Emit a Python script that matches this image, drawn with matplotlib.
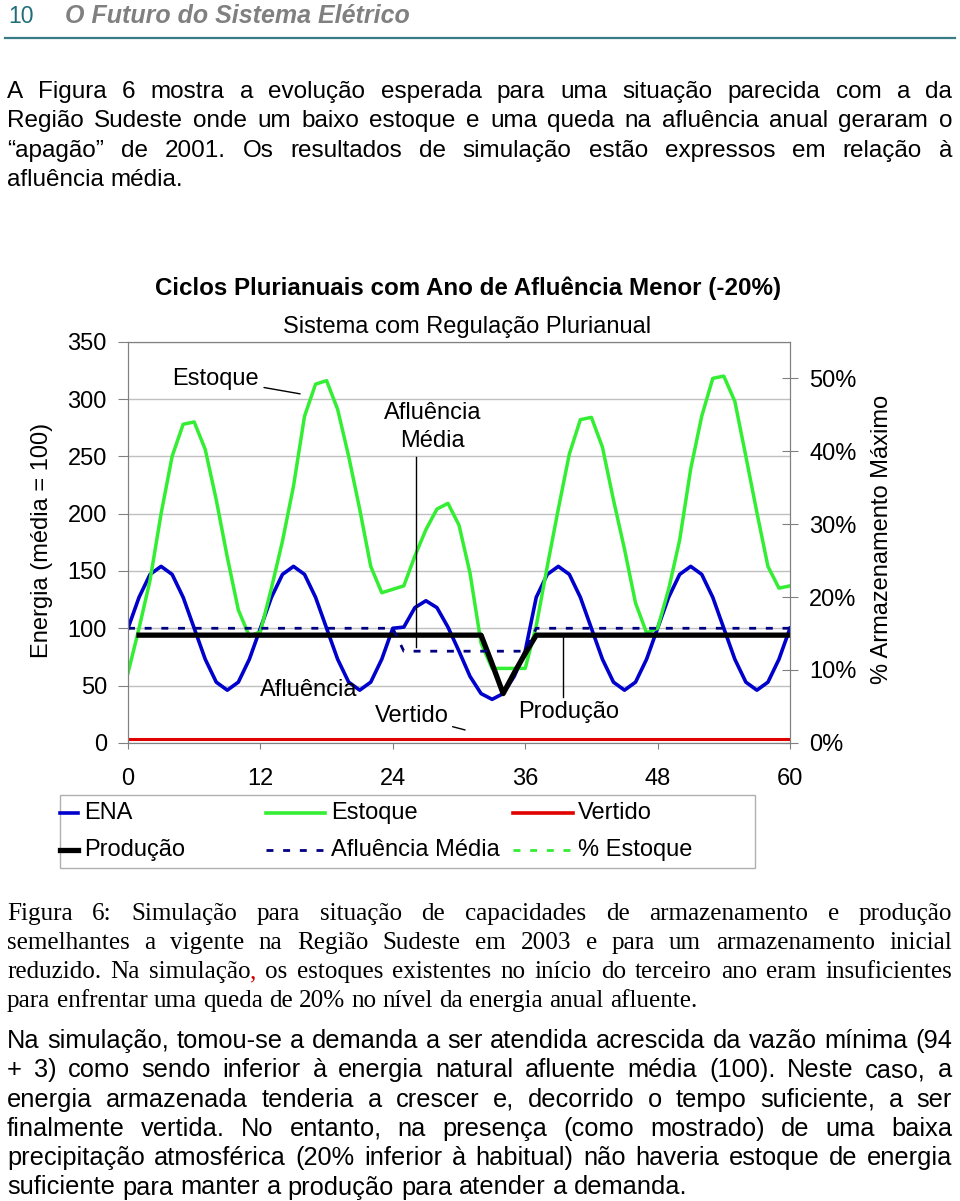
import matplotlib
matplotlib.use('Agg')
import matplotlib.pyplot as plt
import numpy as np
from matplotlib.transforms import Affine2D
from matplotlib.lines import Line2D
from matplotlib.patches import Rectangle

plt.rcParams['font.family'] = ['Liberation Sans', 'DejaVu Sans']
plt.rcParams['lines.scale_dashes'] = False

W, H = 960, 1201

# ---- data (monthly, 0..60) ----
months = np.arange(61)
ena = [100,
       127, 147, 154, 147, 127, 100, 73, 53, 46, 53, 73, 100,
       127, 147, 154, 147, 127, 100, 73, 53, 46, 53, 73, 100,
       101, 118, 124, 118, 101, 80, 58, 43, 38, 43, 58, 80,
       127, 147, 154, 147, 127, 100, 73, 53, 46, 53, 73, 100,
       127, 147, 154, 147, 127, 100, 73, 53, 46, 53, 73, 100]
estoque = [61, 100, 142, 200, 250, 278, 280, 256, 212, 162, 116, 93, 97,
           135, 176, 224, 285, 313, 316, 291, 250, 204, 154, 131, 134,
           137, 163, 186, 204, 209, 190, 148, 87, 65, 65, 65, 65,
           102, 154, 204, 252, 282, 284, 258, 212, 169, 122, 96, 100,
           134, 177, 239, 285, 318, 320, 298, 250, 201, 154, 135, 137]
vertido = [3] * 61
producao = [np.nan] + [94] * 32 + [69, 43, 61, 78] + [94] * 24
afl_media = [100] * 25 + [80] * 12 + [100] * 24

x_ticks = [0, 12, 24, 36, 48, 60]
y_ticks = list(range(0, 351, 50))
pct_ticks = [0, 10, 20, 30, 40, 50]

legend_rows = [[('ENA', '#0000cc', 'solid'), ('Estoque', '#33ee33', 'solid'), ('Vertido', '#e00000', 'solid')],
               [('Produção', 'black', 'solid'), ('Afluência Média', '#000080', 'dash'), ('% Estoque', '#33ee33', 'dash')]]

para1 = ["A Figura 6 mostra a evolução esperada para uma situação parecida com a da",
         "Região Sudeste onde um baixo estoque e uma queda na afluência anual geraram o",
         "“apagão” de 2001. Os resultados de simulação estão expressos em relação à",
         "afluência média."]
caption = ["Figura 6: Simulação para situação de capacidades de armazenamento e produção",
           "semelhantes a vigente na Região Sudeste em 2003 e para um armazenamento inicial",
           "reduzido. Na simulação, os estoques existentes no início do terceiro ano eram insuficientes",
           "para enfrentar uma queda de 20% no nível da energia anual afluente."]
para2 = ["Na simulação, tomou-se a demanda a ser atendida acrescida da vazão mínima (94",
         "+ 3) como sendo inferior à energia natural afluente média (100). Neste caso, a",
         "energia armazenada tenderia a crescer e, decorrido o tempo suficiente, a ser",
         "finalmente vertida. No entanto, na presença (como mostrado) de uma baixa",
         "precipitação atmosférica (20% inferior à habitual) não haveria estoque de energia",
         "suficiente para manter a produção para atender a demanda."]

fig = plt.figure(figsize=(9.6, 12.01), dpi=100)
P = Affine2D().scale(1 / W, -1 / H).translate(0, 1) + fig.transFigure
renderer = fig.canvas.get_renderer()

# ---- header ----
fig.text(8, 23, '10', transform=P, fontsize=16.5, color='#1f6f78')
fig.text(65, 23, 'O Futuro do Sistema Elétrico', transform=P, fontsize=18,
         color='#808080', weight='bold', style='italic')
fig.add_artist(Line2D([5, 955], [38, 38], transform=P, color='#3a7c86', lw=1.6))


def text_width(s, size, family):
    t = fig.text(0, 0, s, fontsize=size, family=family)
    w = t.get_window_extent(renderer).width
    t.remove()
    return w


def draw_par(lines, x0, x1, y0, dy, size, family):
    space = text_width('a a', size, family) - text_width('aa', size, family)
    for i, line in enumerate(lines):
        words = line.split(' ')
        ws = [text_width(w, size, family) for w in words]
        last = i == len(lines) - 1
        gap = space if last else (x1 - x0 - sum(ws)) / (len(words) - 1)
        x = x0
        y = y0 + i * dy
        for w, wd in zip(words, ws):
            if w == 'simulação,' and family == ['Liberation Serif']:
                fig.text(x, y, 'simulação', transform=P, fontsize=size, family=family)
                fig.text(x + text_width('simulação', size, family), y, ',', transform=P,
                         fontsize=size, family=family, color='#cc0000')
            else:
                fig.text(x, y, w, transform=P, fontsize=size, family=family)
            x += wd + gap


draw_par(para1, 7, 952, 98, 29.4, 17.5, ['Liberation Sans'])
draw_par(caption, 7, 952, 920, 29, 18.1, ['Liberation Serif'])
draw_par(para2, 7, 952, 1048, 29.3, 18.3, ['Liberation Sans'])

# ---- chart ----
ax = fig.add_axes([128 / W, 1 - 742.9 / H, (790 - 128) / W, (742.9 - 341.7) / H])
ax.plot(months, ena, color='#0000cc', lw=2.6)
ax.plot(months, estoque, color='#33ee33', lw=2.5)
ax.plot(months, vertido, color='#e00000', lw=2.2)
ax.plot(months, producao, color='black', lw=3.8)
ax.plot(months, afl_media, color='#000080', lw=2, dashes=(5, 7))

ax.set_xlim(0, 60)
ax.set_ylim(0, 350)
ax.set_xticks(x_ticks)
ax.set_yticks(y_ticks)
ax.grid(axis='y', color='#c0c0c0', lw=1)
ax.set_axisbelow(True)
for s in ax.spines.values():
    s.set_color('#808080')
ax.tick_params(axis='y', length=7.2, color='#808080', pad=8, labelsize=17)
ax.tick_params(axis='x', length=4.3, color='#808080', pad=14, labelsize=17)

ax2 = ax.twinx()
ax2.set_ylim(0, 55)
ax2.set_yticks(pct_ticks)
ax2.set_yticklabels([f'{t}%' for t in pct_ticks])
ax2.tick_params(axis='y', direction='inout', length=11.5, color='#808080', pad=8, labelsize=17)
for s in ax2.spines.values():
    s.set_color('#808080')

fig.text(42, 540, 'Energia (média = 100)', transform=P, rotation=90, ha='center', va='center', fontsize=17)
fig.text(882, 539, '% Armazenamento Máximo', transform=P, rotation=90, ha='center', va='center', fontsize=17)
fig.text(468, 288, 'Ciclos Plurianuais com Ano de Afluência Menor (-20%)', transform=P,
         ha='center', va='center', fontsize=17.4, weight='bold')
fig.text(467, 327, 'Sistema com Regulação Plurianual', transform=P, ha='center', va='center', fontsize=17)

# annotations
ax.annotate('Estoque', xy=(15.6, 304.5), xytext=(7.9, 317.5), ha='center', va='center', fontsize=17,
            arrowprops=dict(arrowstyle='-', lw=1, color='black', shrinkA=2, shrinkB=0))
ax.text(27.6, 276, 'Afluência\nMédia', ha='center', va='center', fontsize=17, linespacing=1.35)
ax.plot([26.1, 26.1], [249, 84], color='black', lw=1)
ax.text(12.0, 46, 'Afluência', ha='left', va='center', fontsize=17)
ax.annotate('Vertido', xy=(30.55, 11.3), xytext=(25.7, 23.5), ha='center', va='center', fontsize=17,
            arrowprops=dict(arrowstyle='-', lw=1, color='black', shrinkA=1, shrinkB=0))
ax.text(39.9, 27, 'Produção', ha='center', va='center', fontsize=17)
ax.plot([39.4, 39.4], [93, 40.4], color='black', lw=1)

# legend box
fig.add_artist(Rectangle((60, 795), 695, 73, transform=P, fill=False, edgecolor='#b0b0b0', lw=1))
col_x = [(60, 78, 84), (266, 325, 331), (513, 573, 578)]
for r, row in enumerate(legend_rows):
    y = 813 + r * 37
    for (name, color, ls), (h0, h1, tx) in zip(row, col_x):
        if ls == 'dash':
            fig.add_artist(Line2D([h0, h1], [y, y], transform=P, color=color, lw=2, dashes=(5, 7)))
        else:
            lw = 3.8 if color == 'black' else 2.6
            fig.add_artist(Line2D([h0, h1], [y, y], transform=P, color=color, lw=lw))
        fig.text(tx, y, name, transform=P, va='center', fontsize=17)

fig.savefig('out.png', dpi=100)
